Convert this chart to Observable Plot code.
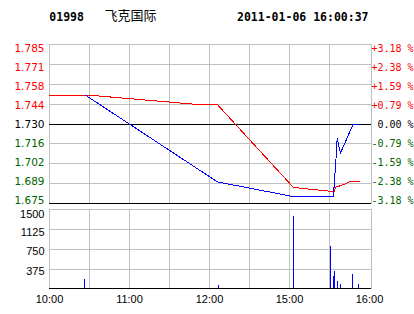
<!DOCTYPE html>
<html>
<head>
<meta charset="utf-8">
<script src="https://cdn.jsdelivr.net/npm/d3@7"></script>
<script src="https://cdn.jsdelivr.net/npm/@observablehq/plot@0.6"></script>
<style>
html, body { margin: 0; padding: 0; background: #fff; }
#chart { position: relative; width: 414px; height: 314px; overflow: hidden; background: #fff; color: #000; }
#chart svg { position: absolute; left: 0; top: 0; }
.t { position: absolute; white-space: pre; line-height: normal; color: #000; }
.code, .time { font-family: "DejaVu Sans Mono", monospace; font-weight: bold; font-size: 11.5px; }
.name { font-family: "Noto Sans CJK SC", sans-serif; font-size: 13px; }
</style>
</head>
<body>
<div id="chart"></div>
<script>
// ---- header text ----
const stockCode = "01998";
const stockName = "飞克国际";
const stamp = "2011-01-06 16:00:37";

// ---- scales / ticks ----
const prevClose = 1.730;
const priceTicks = [1.785, 1.77125, 1.7575, 1.74375, 1.730, 1.71625, 1.7025, 1.68875, 1.675];
const priceLabels = ["1.785", "1.771", "1.758", "1.744", "1.730", "1.716", "1.702", "1.689", "1.675"];
const pctLabels = ["+3.18 %", "+2.38 %", "+1.59 %", "+0.79 %", "\u00a00.00 %", "-0.79 %", "-1.59 %", "-2.38 %", "-3.18 %"];
const volTicks = [375, 750, 1125, 1500];
const volLabels = ["375", "750", "1125", "1500"];
const timeTicks = [0, 30, 60, 90, 120, 150, 180, 210, 240]; // minutes of trading since 10:00
const timeLabelTicks = [0, 60, 120, 180, 240];
const timeLabels = ["10:00", "11:00", "12:00", "15:00", "16:00"];

// ---- series: price (blue) ----
const priceTimes  = [27,   126,  182,  213.2, 213.5, 214.5, 215.75, 218.25, 227.75, 232.25];
const priceValues = [1.75, 1.69, 1.68, 1.68,  1.69,  1.70,  1.72,   1.71,   1.73,   1.73];

// ---- series: average price (red) ----
const avgTimes  = [0,     30,    113,    126,    182.8,  188.25, 197,    204.5,  212,    213.2,  214.5,  217,    222,    225.75, 232.25];
const avgValues = [1.750, 1.750, 1.7434, 1.7434, 1.6863, 1.6857, 1.6848, 1.6841, 1.6834, 1.6829, 1.6863, 1.6870, 1.6887, 1.6903, 1.6903];

// ---- series: volume (blue bars) ----
const volTimes  = [26,  126.5, 183,  210.75, 213.2, 214, 216.2, 218.5, 227.5, 232];
const volValues = [178, 65,    1380, 805,    235,   330, 140,   84,    274,   84];

// ---- build tables ----
const priceData = priceTimes.map((t, i) => ({t, v: priceValues[i]}));
const avgData = avgTimes.map((t, i) => ({t, v: avgValues[i]}));
const volData = volTimes.map((t, i) => ({t, v: volValues[i]}));
const tickRows = priceTicks.map((v, i) => ({v, label: priceLabels[i], pct: pctLabels[i]}));
const volRows = volTicks.map((v, i) => ({v, label: volLabels[i]}));
const timeRows = timeLabelTicks.map((t, i) => ({t, label: timeLabels[i]}));
const gridTimes = timeTicks.slice(1, -1);
const volMax = volTicks[volTicks.length - 1];
const priceMin = priceTicks[priceTicks.length - 1];

const GRID = "#c0c0c0", RED = "#ff0000", BLUE = "#0000ff", GREEN = "#006400";
const tone = v => v > prevClose ? RED : v < prevClose ? GREEN : "#000";
const crisp = {shapeRendering: "crispEdges"};

const common = {
  width: 414, height: 314, marginLeft: 49, marginRight: 43,
  style: {background: "transparent", overflow: "visible"}
};
const xScale = {domain: [0, 240], range: [49, 369], axis: null};

const pricePlot = Plot.plot({
  ...common, marginTop: 44, marginBottom: 111,
  x: xScale,
  y: {domain: [priceMin, priceTicks[0]], range: [203.1, 44.1], axis: null},
  marks: [
    Plot.ruleX(gridTimes, {stroke: GRID, ...crisp}),
    Plot.ruleY(priceTicks.filter(d => d !== prevClose && d !== priceMin), {stroke: GRID, ...crisp}),
    Plot.frame({stroke: GRID, ...crisp}),
    Plot.ruleY([prevClose, priceMin], {stroke: "#000", ...crisp}),
    Plot.line(avgData, {x: "t", y: "v", stroke: RED, strokeWidth: 1, ...crisp}),
    Plot.line(priceData, {x: "t", y: "v", stroke: BLUE, strokeWidth: 1, ...crisp})
  ]
});

const labelPlot = Plot.plot({
  ...common, marginTop: 44, marginBottom: 111,
  x: xScale,
  y: {domain: [priceMin, priceTicks[0]], range: [200, 47.3], axis: null},
  marks: [
    Plot.text(tickRows, {y: "v", text: "label", frameAnchor: "left", textAnchor: "end", dx: -5, dy: 0.5,
      fill: d => tone(d.v), fontFamily: "DejaVu Sans", fontSize: 10.5}),
    Plot.text(tickRows, {y: "v", text: "pct", frameAnchor: "right", textAnchor: "start", dx: 0, dy: 0.5,
      fill: d => tone(d.v), fontFamily: "DejaVu Sans Mono", fontSize: 10})
  ]
});

const volPlot = Plot.plot({
  ...common, marginTop: 209, marginBottom: 26,
  x: xScale,
  y: {domain: [0, volMax], range: [288.4, 209.4], axis: null},
  marks: [
    Plot.ruleX(gridTimes, {stroke: GRID, ...crisp}),
    Plot.ruleY(volTicks.filter(d => d !== volMax), {stroke: GRID, ...crisp}),
    Plot.frame({stroke: GRID, ...crisp}),
    Plot.ruleY([0], {stroke: "#000", ...crisp}),
    Plot.ruleX(volData, {x: "t", y: "v", stroke: BLUE, strokeWidth: 1, ...crisp}),
    Plot.text(volRows.filter(d => d.v !== volMax), {y: "v", text: "label", frameAnchor: "left", textAnchor: "end",
      dx: -5, dy: 2.5, fill: "#000", fontFamily: "Liberation Sans", fontSize: 11}),
    Plot.text(volRows.filter(d => d.v === volMax), {y: "v", text: "label", frameAnchor: "left", textAnchor: "end",
      dx: -5, dy: 4.5, fill: "#000", fontFamily: "Liberation Sans", fontSize: 11}),
    Plot.text(timeRows, {x: "t", text: "label", frameAnchor: "bottom", textAnchor: "middle", lineAnchor: "middle",
      dy: 10.7, fill: "#000", fontFamily: "Liberation Sans", fontSize: 11})
  ]
});

const chart = document.getElementById("chart");
function addText(cls, text, left, top) {
  const s = document.createElement("span");
  s.className = "t " + cls;
  s.textContent = text;
  s.style.left = left + "px";
  s.style.top = top + "px";
  chart.appendChild(s);
}
addText("code", stockCode, 49.3, 10);
addText("name", stockName, 104.5, 4.7);
addText("time", stamp, 237, 10);
chart.appendChild(volPlot);
chart.appendChild(pricePlot);
chart.appendChild(labelPlot);
</script>
</body>
</html>
